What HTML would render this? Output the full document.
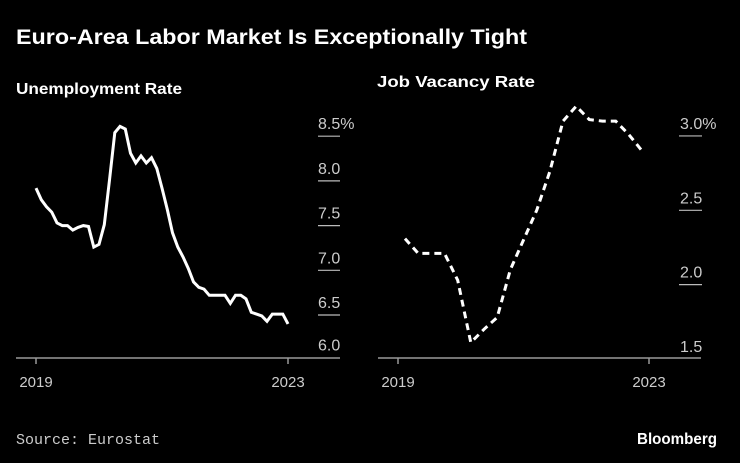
<!DOCTYPE html>
<html><head><meta charset="utf-8"><style>
html,body{margin:0;padding:0;background:#000;}
svg{display:block;font-family:"Liberation Sans",sans-serif;}
</style></head><body>
<svg id="c" width="740" height="463" viewBox="0 0 740 463">
<rect width="740" height="463" fill="#000"/>
<text x="16" y="44" fill="#fff" font-size="21" font-weight="bold" textLength="511" lengthAdjust="spacingAndGlyphs">Euro-Area Labor Market Is Exceptionally Tight</text>
<text x="16" y="94" fill="#fff" font-size="16" font-weight="bold" textLength="166" lengthAdjust="spacingAndGlyphs">Unemployment Rate</text>
<text x="377" y="87" fill="#fff" font-size="16" font-weight="bold" textLength="158" lengthAdjust="spacingAndGlyphs">Job Vacancy Rate</text>
<text x="16" y="444" fill="#ccc" font-size="15" font-family="Liberation Mono, monospace">Source: Eurostat</text>
<text x="717" y="444" fill="#fff" font-size="16" font-weight="bold" text-anchor="end" textLength="80" lengthAdjust="spacingAndGlyphs">Bloomberg</text>
<g id="left"></g>
<g id="right"></g>
</svg>
<script>
// Unemployment rate, monthly Jan 2019 - Jan 2023
const unempMonths = Array.from({length:49},(_,i)=>i);
const unempValues = [7.92,7.79,7.71,7.65,7.53,7.50,7.50,7.45,7.48,7.50,7.49,7.26,7.29,7.51,8.01,8.54,8.61,8.58,8.31,8.20,8.28,8.20,8.26,8.14,7.92,7.68,7.42,7.26,7.15,7.02,6.87,6.81,6.79,6.72,6.72,6.72,6.72,6.63,6.72,6.72,6.68,6.53,6.51,6.49,6.43,6.51,6.51,6.51,6.40];
const unempTicks = [6.0,6.5,7.0,7.5,8.0,8.5];
const unempTickLabels = ["6.0","6.5","7.0","7.5","8.0","8.5%"];
// Job vacancy rate
const vacPeriods = Array.from({length:19},(_,i)=>i);
const vacValues = [2.31,2.21,2.21,2.21,2.03,1.61,1.70,1.78,2.10,2.30,2.50,2.76,3.10,3.20,3.11,3.10,3.10,3.01,2.90];
const vacTicks = [1.5,2.0,2.5,3.0];
const vacTickLabels = ["1.5","2.0","2.5","3.0%"];
const xLabels = ["2019","2023"];

const NS="http://www.w3.org/2000/svg";
function mk(parent,tag,attrs){const e=document.createElementNS(NS,tag);for(const k in attrs)e.setAttribute(k,attrs[k]);parent.appendChild(e);return e;}

(function(){
  const g=document.getElementById('left');
  const x=m=>36+m*(252/48);
  const y=v=>359.7-(v-6.0)*89.4;
  const ax=mk(g,'line',{x1:16,x2:340,y1:358,y2:358,stroke:'#999','stroke-width':1.5});
  
  
  [0,48].forEach((m,i)=>{
    const t=mk(g,'line',{x1:x(m),x2:x(m),y1:358,y2:364,stroke:'#999','stroke-width':1.5});
    
    
    const l=mk(g,'text',{x:x(m),y:387,fill:'#ccc','font-size':15,'text-anchor':'middle'});
    l.textContent=xLabels[i];
    
    
  });
  unempTicks.forEach((v,i)=>{
    const yy=y(v);
    if(i>0){
      const tl=mk(g,'line',{x1:318,x2:340,y1:yy,y2:yy,stroke:'#bbb','stroke-width':1.2});
      
      
    }
    const l=mk(g,'text',{x:318,y:(i===0?yy-9:yy-7),fill:'#ccc','font-size':16});
    l.textContent=unempTickLabels[i];
    
    
  });
  const d=unempValues.map((v,i)=>(i?'L':'M')+x(unempMonths[i]).toFixed(1)+','+y(v).toFixed(1)).join('');
  const p=mk(g,'path',{d:d,fill:'none',stroke:'#fff','stroke-width':3,'stroke-linejoin':'miter'});
  
  
})();

(function(){
  const g=document.getElementById('right');
  const x=i=>405+i*(237/18);
  const xd=m=>398+m*(251/48);
  const y=v=>359-(v-1.5)*148.7;
  const ax=mk(g,'line',{x1:378,x2:701,y1:358,y2:358,stroke:'#999','stroke-width':1.5});
  
  
  [0,48].forEach((m,i)=>{
    const t=mk(g,'line',{x1:xd(m),x2:xd(m),y1:358,y2:364,stroke:'#999','stroke-width':1.5});
    
    
    const l=mk(g,'text',{x:xd(m),y:387,fill:'#ccc','font-size':15,'text-anchor':'middle'});
    l.textContent=xLabels[i];
    
    
  });
  vacTicks.forEach((v,i)=>{
    const yy=y(v);
    if(i>0){
      const tl=mk(g,'line',{x1:679,x2:702,y1:yy,y2:yy,stroke:'#bbb','stroke-width':1.2});
      
      
    }
    const l=mk(g,'text',{x:680,y:yy-7,fill:'#ccc','font-size':16});
    l.textContent=vacTickLabels[i];
    
    
  });
  const d=vacValues.map((v,i)=>(i?'L':'M')+x(vacPeriods[i]).toFixed(1)+','+y(v).toFixed(1)).join('');
  const p=mk(g,'path',{d:d,fill:'none',stroke:'#fff','stroke-width':3,'stroke-dasharray':'7,5'});
  
  
})();
</script>
</body></html>
